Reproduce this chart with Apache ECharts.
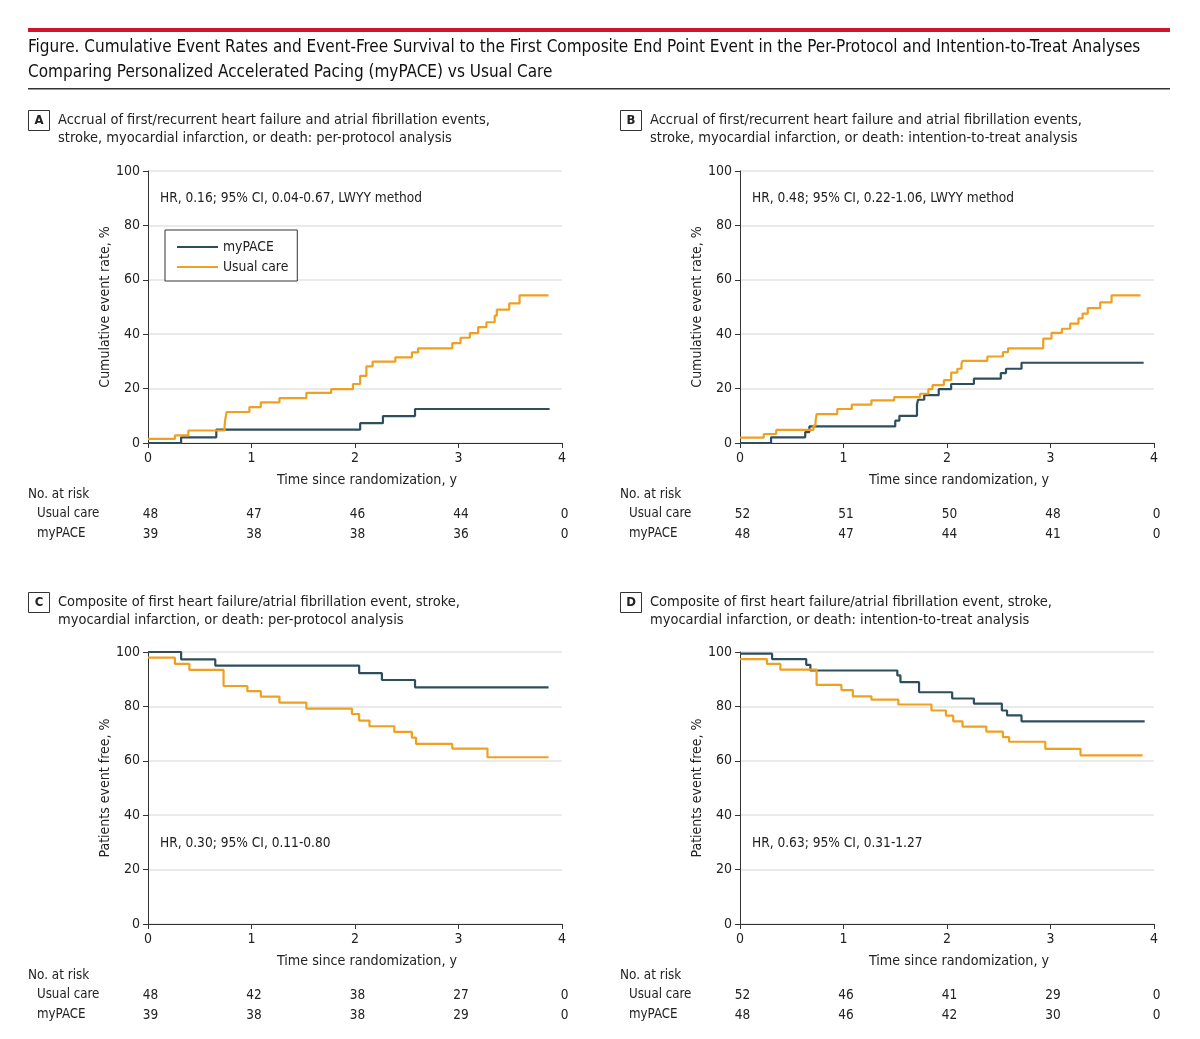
<!DOCTYPE html>
<html><head><meta charset="utf-8">
<script src="https://cdn.jsdelivr.net/npm/echarts@6/dist/echarts.min.js"></script>
<style>html,body{margin:0;padding:0;background:#fff}#c{width:1200px;height:1039px}</style>
</head><body><div id="c"></div>
<script>
const FONT = '"Liberation Sans Narrow","DejaVu Sans Condensed","Roboto",sans-serif';
const xTicks = [0, 1, 2, 3, 4];
const yTicks = [0, 20, 40, 60, 80, 100];
const riskRows = ['Usual care', 'myPACE'];

// Panel A (per-protocol, cumulative event rate)
const aMyPACE = [[0,0],[0.32,2.1],[0.66,4.9],[2.05,7.3],[2.27,9.9],[2.58,12.5],[3.88,12.5]];
const aUsual = [[0,1.5],[0.26,2.8],[0.39,4.6],[0.74,6.1],[0.745,8.3],[0.76,11.4],[0.98,13.2],[1.09,14.9],[1.27,16.5],[1.53,18.4],[1.77,19.8],[1.98,21.7],[2.05,24.7],[2.11,28.2],[2.17,29.9],[2.39,31.5],[2.55,33.3],[2.61,34.8],[2.94,36.7],[3.02,38.7],[3.11,40.4],[3.19,42.6],[3.27,44.4],[3.35,46.8],[3.37,49.0],[3.49,51.3],[3.59,54.3],[3.87,54.3]];
// Panel B (ITT, cumulative event rate)
const bMyPACE = [[0,0],[0.30,2.1],[0.63,4.0],[0.67,6.1],[1.50,8.2],[1.54,10.0],[1.71,14.1],[1.72,15.9],[1.78,17.6],[1.92,19.8],[2.04,21.7],[2.26,23.7],[2.52,25.7],[2.57,27.3],[2.72,29.5],[3.90,29.5]];
const bUsual = [[0,2.0],[0.23,3.3],[0.35,4.8],[0.71,6.4],[0.73,8.0],[0.74,10.6],[0.94,12.5],[1.08,14.1],[1.27,15.7],[1.49,16.9],[1.74,18.1],[1.82,19.8],[1.86,21.3],[1.97,23.1],[2.04,25.9],[2.10,27.3],[2.14,29.1],[2.15,30.2],[2.39,31.8],[2.54,33.4],[2.59,34.8],[2.93,38.4],[3.01,40.5],[3.11,42.0],[3.19,43.9],[3.27,45.8],[3.31,47.6],[3.36,49.6],[3.48,51.7],[3.59,54.3],[3.87,54.3]];
// Panel C (per-protocol, event-free)
const cMyPACE = [[0,100],[0.32,97.3],[0.65,95.0],[2.04,92.2],[2.26,89.7],[2.58,87.0],[3.87,87.0]];
const cUsual = [[0,97.9],[0.26,95.6],[0.40,93.4],[0.73,87.5],[0.96,85.6],[1.09,83.6],[1.27,81.4],[1.53,79.2],[1.97,77.2],[2.04,74.8],[2.14,72.7],[2.38,70.6],[2.55,68.5],[2.59,66.2],[2.94,64.5],[3.28,61.3],[3.87,61.3]];
// Panel D (ITT, event-free)
const dMyPACE = [[0,99.4],[0.31,97.4],[0.64,95.3],[0.68,93.2],[1.52,91.4],[1.55,88.9],[1.73,85.2],[2.05,82.9],[2.26,81.0],[2.53,78.5],[2.58,76.7],[2.72,74.5],[3.91,74.5]];
const dUsual = [[0,97.4],[0.26,95.6],[0.39,93.5],[0.74,87.9],[0.98,86.0],[1.09,83.7],[1.27,82.5],[1.53,80.7],[1.85,78.5],[1.99,76.6],[2.06,74.5],[2.15,72.6],[2.38,70.7],[2.54,68.7],[2.60,67.0],[2.95,64.4],[3.29,62.0],[3.89,62.0]];

// Numbers at risk at years 0..4
const riskAUsual = [48,47,46,44,0], riskAMyPACE = [39,38,38,36,0];
const riskBUsual = [52,51,50,48,0], riskBMyPACE = [48,47,44,41,0];
const riskCUsual = [48,42,38,27,0], riskCMyPACE = [39,38,38,29,0];
const riskDUsual = [52,46,41,29,0], riskDMyPACE = [48,46,42,30,0];

const hrTexts = ['HR, 0.16; 95% CI, 0.04-0.67, LWYY method','HR, 0.48; 95% CI, 0.22-1.06, LWYY method','HR, 0.30; 95% CI, 0.11-0.80','HR, 0.63; 95% CI, 0.31-1.27'];
const headers = [
  'Accrual of first/recurrent heart failure and atrial fibrillation events,\nstroke, myocardial infarction, or death: per-protocol analysis',
  'Accrual of first/recurrent heart failure and atrial fibrillation events,\nstroke, myocardial infarction, or death: intention-to-treat analysis',
  'Composite of first heart failure/atrial fibrillation event, stroke,\nmyocardial infarction, or death: per-protocol analysis',
  'Composite of first heart failure/atrial fibrillation event, stroke,\nmyocardial infarction, or death: intention-to-treat analysis'];
const panelLetters = ['A','B','C','D'];
const yNames = ['Cumulative event rate, %','Cumulative event rate, %','Patients event free, %','Patients event free, %'];
const xName = 'Time since randomization, y';
const titleText = 'Figure. Cumulative Event Rates and Event-Free Survival to the First Composite End Point Event in the Per-Protocol and Intention-to-Treat Analyses\nComparing Personalized Accelerated Pacing (myPACE) vs Usual Care';

const C_MY = '#2f4e5c', C_UC = '#f0a020', TXT = '#222';
const panels = [
  {left:148, top:171, my:aMyPACE, uc:aUsual, rU:riskAUsual, rM:riskAMyPACE, hrY:198},
  {left:740, top:171, my:bMyPACE, uc:bUsual, rU:riskBUsual, rM:riskBMyPACE, hrY:198},
  {left:148, top:652, my:cMyPACE, uc:cUsual, rU:riskCUsual, rM:riskCMyPACE, hrY:843},
  {left:740, top:652, my:dMyPACE, uc:dUsual, rU:riskDUsual, rM:riskDMyPACE, hrY:843}];
const W = 414, H = 272;

const grid = [], xAxis = [], yAxis = [], series = [], graphic = [];
panels.forEach((p, i) => {
  grid.push({left:p.left, top:p.top, width:W, height:H});
  xAxis.push({type:'value', gridIndex:2*i, min:0, max:4, interval:1,
    name:xName, nameLocation:'middle', nameGap:30,
    nameTextStyle:{fontSize:14.2, color:TXT, fontFamily:FONT, padding:[0,0,0,24]},
    axisLine:{show:true, lineStyle:{color:'#333', width:1}},
    axisTick:{show:true, length:5, lineStyle:{color:'#333'}},
    axisLabel:{fontSize:14, color:TXT, margin:8, fontFamily:FONT},
    splitLine:{show:false}});
  yAxis.push({type:'value', gridIndex:2*i, min:0, max:100, interval:20,
    name:yNames[i], nameLocation:'middle', nameGap:36, nameTextStyle:{fontSize:14, color:TXT, fontFamily:FONT},
    axisLine:{show:true, lineStyle:{color:'#333', width:1}},
    axisTick:{show:true, length:5, lineStyle:{color:'#333'}},
    axisLabel:{fontSize:14, color:TXT, margin:8, fontFamily:FONT},
    splitLine:{show:true, lineStyle:{color:'#e3e3e3', width:1.5}}});
  series.push({name:'myPACE', type:'line', step:'end', xAxisIndex:2*i, yAxisIndex:2*i, data:p.my,
    symbol:'none', lineStyle:{color:C_MY, width:2.2}, itemStyle:{color:C_MY}, z:3});
  series.push({name:'Usual care', type:'line', step:'end', xAxisIndex:2*i, yAxisIndex:2*i, data:p.uc,
    symbol:'none', lineStyle:{color:C_UC, width:2.2}, itemStyle:{color:C_UC}, z:4});
  // risk table grid
  grid.push({left:p.left, top:p.top + H + 61, width:W, height:40});
  xAxis.push({type:'value', gridIndex:2*i+1, min:0, max:4, interval:1, show:false});
  yAxis.push({type:'category', gridIndex:2*i+1, inverse:true, data:riskRows,
    axisLine:{show:false}, axisTick:{show:false}, splitLine:{show:false},
    axisLabel:{align:'left', margin:p.left - (i % 2 ? 629 : 37), fontSize:13.2, color:TXT, fontFamily:FONT}});
  [['Usual care', p.rU], ['myPACE', p.rM]].forEach(([row, vals]) => {
    series.push({type:'scatter', xAxisIndex:2*i+1, yAxisIndex:2*i+1, symbolSize:1, silent:true,
      itemStyle:{color:'rgba(0,0,0,0)', opacity:1},
      data:xTicks.map((t, k) => [t, row, vals[k]]),
      label:{show:true, position:'inside', offset:[2.5,0], formatter:q => String(q.value[2]), fontSize:13.5, color:TXT, fontFamily:FONT}});
  });
  const bx = i % 2 ? 620 : 28, by = i < 2 ? 110 : 592;
  graphic.push({type:'rect', shape:{x:bx+0.5, y:by+0.5, width:21, height:20}, style:{fill:'#fff', stroke:'#333', lineWidth:1}});
  graphic.push({type:'text', style:{text:panelLetters[i], x:bx+11, y:by+11, align:'center', verticalAlign:'middle', fontSize:13, fontWeight:'bold', fontFamily:FONT, fill:TXT}});
  graphic.push({type:'text', style:{text:headers[i], x:bx+30, y:by+1, verticalAlign:'top', lineHeight:18, fontSize:14.5, fontFamily:FONT, fill:TXT}});
  graphic.push({type:'text', style:{text:hrTexts[i], x:p.left+12, y:p.hrY, verticalAlign:'middle', fontSize:13.6, fontFamily:FONT, fill:TXT}});
  graphic.push({type:'text', style:{text:'No. at risk', x:bx, y:p.top + H + 52, verticalAlign:'middle', fontSize:13.4, fontFamily:FONT, fill:TXT}});
});
graphic.push({type:'rect', shape:{x:28, y:28, width:1142, height:4}, style:{fill:'#d0142c'}});
graphic.push({type:'rect', shape:{x:28, y:88, width:1142, height:1.6}, style:{fill:'#333'}});
graphic.push({type:'text', style:{text:titleText, x:28, y:35, verticalAlign:'top', lineHeight:25, fontSize:17, fontWeight:500, fontFamily:FONT, fill:'#111'}});

const chart = echarts.init(document.getElementById('c'));
chart.setOption({
  animation:false,
  textStyle:{fontFamily:FONT},
  grid, xAxis, yAxis, series, graphic,
  legend:{data:['myPACE','Usual care'], orient:'vertical', left:165, top:230,
    padding:[10,9,7,11], itemGap:6, itemWidth:41, itemHeight:14,
    itemStyle:{opacity:0},
    borderColor:'#333', borderWidth:1, backgroundColor:'#fff',
    textStyle:{fontSize:13.8, color:TXT, fontFamily:FONT}}
});
</script></body></html>
